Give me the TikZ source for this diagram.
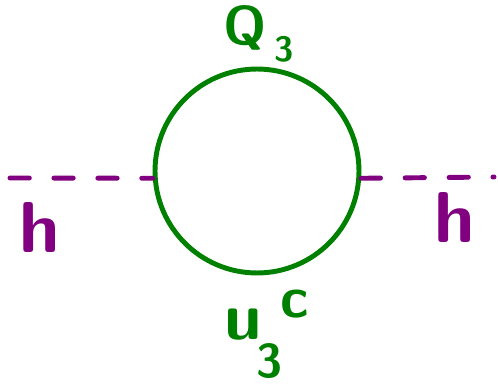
\documentclass[tikz,border=0pt]{standalone}
\usepackage{fontspec}
\definecolor{loopgreen}{RGB}{0,128,0}
\definecolor{higgspurple}{RGB}{128,0,128}
\usetikzlibrary{positioning}

\begin{document}
\begin{tikzpicture}[x=0.02cm,y=-0.02cm,
  fermionloop/.style={draw=loopgreen,circle,line width=2.8pt,minimum size=4.08cm,inner sep=0pt},
  higgsline/.style={draw=higgspurple,line width=2.8pt,line cap=round,dash pattern=on 11pt off 14pt},
  loopname/.style={text=loopgreen,anchor=base,inner sep=0pt},
  higgsname/.style={text=higgspurple,anchor=base,inner sep=0pt,font=\sffamily\bfseries\fontsize{41}{44}\selectfont}
]
  \useasboundingbox (0,0) rectangle (498,385);
  % loop and external legs
  \node[fermionloop] (loop) at (257,171) {};
  \coordinate (hleft) at (10,178);
  \coordinate (hright) at (494,177);
  \draw[higgsline] (hleft) -- (loop.184);
  \draw[higgsline] (loop.356) -- (hright);
  % labels
  \node[loopname,font=\sffamily\bfseries\fontsize{31}{33}\selectfont] (qlabel) at (245,45) {Q};
  \node[loopname,font=\sffamily\bfseries\fontsize{20}{22}\selectfont] (qindex) at (284,62) {3};
  \node[loopname,font=\sffamily\bfseries\fontsize{38}{40}\selectfont] (ulabel) at (243,340) {u};
  \node[loopname,font=\sffamily\bfseries\fontsize{27}{30}\selectfont] (uindex) at (270,378) {3};
  \node[loopname,font=\sffamily\bfseries\fontsize{33}{36}\selectfont] (uconj) at (295,318) {c};
  \node[higgsname] (hlabelleft) at (40,253) {h};
  \node[higgsname] (hlabelright) at (455,243) {h};
\end{tikzpicture}
\end{document}
